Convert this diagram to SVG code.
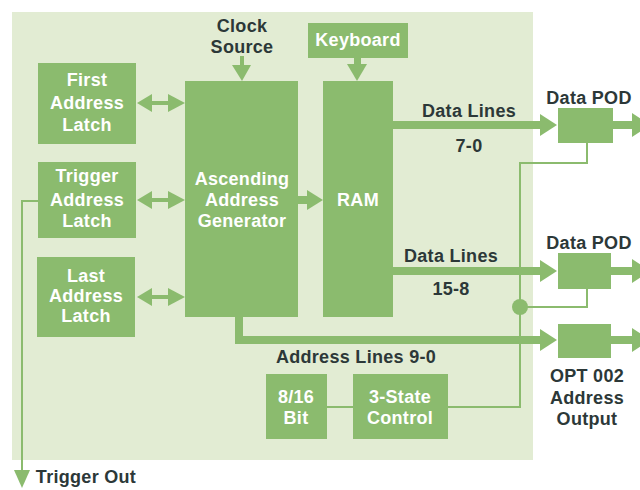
<svg xmlns="http://www.w3.org/2000/svg" width="640" height="490" viewBox="0 0 640 490">
<style>
.box{fill:#8bbb6e}
.ln{fill:none;stroke:#8bbb6e;stroke-width:2}
.ah{fill:#8bbb6e}
.wt{font-family:"Liberation Sans",Arial,sans-serif;font-weight:bold;font-size:18px;letter-spacing:0.3px;fill:#ffffff;text-anchor:middle}
.dt{font-family:"Liberation Sans",Arial,sans-serif;font-weight:bold;font-size:18px;letter-spacing:0.3px;fill:#2c3838;text-anchor:middle}
</style>
<rect x="0" y="0" width="640" height="490" fill="#ffffff"/>
<rect x="12" y="12" width="521" height="448" fill="#e2ecd3"/>

<g id="connectors">
  <!-- clock arrow -->
  <rect class="ah" x="240" y="56" width="4" height="10"/>
  <polygon class="ah" points="232,65 251,65 242,81"/>
  <!-- keyboard arrow -->
  <rect class="ah" x="354" y="58" width="7" height="7"/>
  <polygon class="ah" points="347,64 367,64 357,81"/>
  <!-- bidirectional arrows -->
  <rect class="ah" x="150" y="101" width="20" height="4"/>
  <polygon class="ah" points="137,103 152,94 152,112"/>
  <polygon class="ah" points="185,103 168,94 168,112"/>
  <rect class="ah" x="150" y="198" width="20" height="4"/>
  <polygon class="ah" points="137,200 152,191 152,209"/>
  <polygon class="ah" points="185,200 168,191 168,209"/>
  <rect class="ah" x="150" y="295" width="20" height="4"/>
  <polygon class="ah" points="137,297 152,288 152,306"/>
  <polygon class="ah" points="185,297 168,288 168,306"/>
  <!-- AAG to RAM -->
  <rect class="ah" x="297" y="196" width="12" height="8"/>
  <polygon class="ah" points="307,190 323,200 307,210"/>
  <!-- data lines 7-0 -->
  <rect class="ah" x="392" y="121" width="150" height="8"/>
  <polygon class="ah" points="540,114 557,125 540,136"/>
  <rect class="ah" x="612" y="121" width="22" height="8"/>
  <polygon class="ah" points="632,113 632,137 650,125"/>
  <!-- data lines 15-8 -->
  <rect class="ah" x="392" y="267" width="150" height="8"/>
  <polygon class="ah" points="540,260 557,271 540,282"/>
  <rect class="ah" x="610" y="267" width="24" height="8"/>
  <polygon class="ah" points="632,259 632,283 650,271"/>
  <!-- address lines 9-0 -->
  <path class="ah" d="M235,316 H243 V336 H542 V344 H235 Z"/>
  <polygon class="ah" points="540,329 557,340 540,351"/>
  <rect class="ah" x="610" y="336" width="24" height="8"/>
  <polygon class="ah" points="632,328 632,352 650,340"/>
  <!-- thin control lines -->
  <polyline class="ln" points="587,143 587,163 520,163 520,407 448,407"/>
  <polyline class="ln" points="587,289 587,307 520,307"/>
  <circle class="ah" cx="520" cy="307" r="8"/>
  <line class="ln" x1="327" y1="407" x2="353" y2="407"/>
  <!-- trigger out -->
  <polyline class="ln" points="38,201 22,201 22,472"/>
  <polygon class="ah" points="14,470 30,470 22,488"/>
</g>

<g id="first-latch">
  <rect class="box" x="38" y="63" width="98" height="81"/>
  <text class="wt" x="87" y="86">First</text>
  <text class="wt" x="87" y="109">Address</text>
  <text class="wt" x="87" y="131">Latch</text>
</g>
<g id="trigger-latch">
  <rect class="box" x="38" y="162" width="98" height="76"/>
  <text class="wt" x="87" y="182">Trigger</text>
  <text class="wt" x="87" y="206">Address</text>
  <text class="wt" x="87" y="227">Latch</text>
</g>
<g id="last-latch">
  <rect class="box" x="37" y="257" width="98" height="80"/>
  <text class="wt" x="86" y="282">Last</text>
  <text class="wt" x="86" y="302">Address</text>
  <text class="wt" x="86" y="322">Latch</text>
</g>
<g id="clock-source">
  <text class="dt" x="242" y="32">Clock</text>
  <text class="dt" x="242" y="53">Source</text>
</g>
<g id="address-generator">
  <rect class="box" x="185" y="81" width="113" height="236"/>
  <text class="wt" x="242" y="185">Ascending</text>
  <text class="wt" x="242" y="206">Address</text>
  <text class="wt" x="242" y="227">Generator</text>
</g>
<g id="keyboard">
  <rect class="box" x="308" y="23" width="100" height="35"/>
  <text class="wt" x="358" y="46">Keyboard</text>
</g>
<g id="ram">
  <rect class="box" x="323" y="81" width="70" height="236"/>
  <text class="wt" x="358" y="206">RAM</text>
</g>
<g id="data-lines-label-1">
  <text class="dt" x="469" y="117">Data Lines</text>
  <text class="dt" x="469" y="152">7-0</text>
</g>
<g id="data-lines-label-2">
  <text class="dt" x="451" y="262">Data Lines</text>
  <text class="dt" x="451" y="295">15-8</text>
</g>
<g id="data-pod-1">
  <text class="dt" x="589" y="104">Data POD</text>
  <rect class="box" x="558" y="108" width="55" height="35"/>
</g>
<g id="data-pod-2">
  <text class="dt" x="589" y="249">Data POD</text>
  <rect class="box" x="558" y="253" width="53" height="36"/>
</g>
<g id="opt-002">
  <rect class="box" x="558" y="324" width="53" height="34"/>
  <text class="dt" x="587" y="382">OPT 002</text>
  <text class="dt" x="587" y="404">Address</text>
  <text class="dt" x="587" y="425">Output</text>
</g>
<g id="address-lines-label">
  <text class="dt" x="356" y="363">Address Lines 9-0</text>
</g>
<g id="bit-select">
  <rect class="box" x="266" y="374" width="61" height="65"/>
  <text class="wt" x="296" y="403">8/16</text>
  <text class="wt" x="296" y="424">Bit</text>
</g>
<g id="three-state">
  <rect class="box" x="353" y="374" width="95" height="65"/>
  <text class="wt" x="400" y="403">3-State</text>
  <text class="wt" x="400" y="424">Control</text>
</g>
<g id="trigger-out">
  <text class="dt" x="86" y="483">Trigger Out</text>
</g>
</svg>
